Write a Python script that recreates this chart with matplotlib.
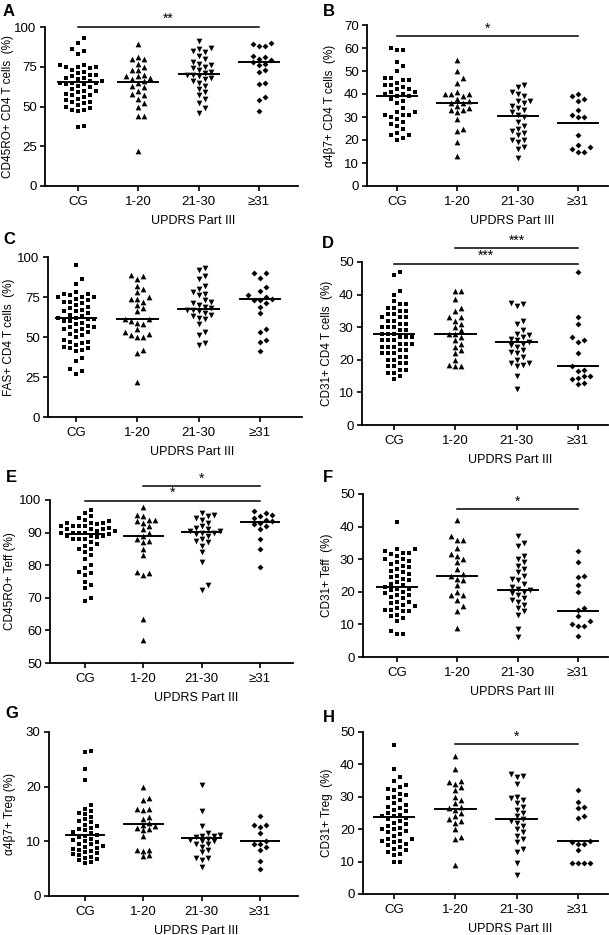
import numpy as np
import matplotlib
matplotlib.use("Agg")
import matplotlib.pyplot as plt

plt.rcParams['font.family'] = ['Liberation Sans', 'DejaVu Sans']

groups = ['CG', '1-20', '21-30', '≥31']
markers = ['s', '^', 'v', 'D']
msizes = [10, 17, 17, 9]

# ---- values (percent) ----
a_cg = [93, 90, 86, 85, 83, 76, 76, 75, 75, 75, 74, 73, 72, 71, 70, 70, 69, 68, 68, 67, 66, 66, 65, 65, 65,
        64, 64, 63, 62, 61, 60, 60, 59, 58, 57, 57, 56, 55, 54, 53, 53, 52, 51, 50, 49, 48, 48, 47, 38, 37]
a_120 = [89, 81, 80, 80, 77, 75, 73, 73, 70, 69, 69, 68, 67, 66, 65, 63, 62, 60, 58, 57, 55, 52, 50, 44, 44, 22]
a_2130 = [91, 87, 86, 85, 84, 82, 80, 78, 77, 76, 75, 74, 73, 72, 71, 70, 70, 69, 68, 67, 66, 65, 63, 61, 59,
          57, 55, 52, 49, 46]
a_31 = [90, 89, 88, 88, 82, 81, 80, 79, 78, 77, 76, 73, 72, 65, 64, 56, 54, 47]

b_cg = [60, 59, 59, 54, 52, 50, 47, 47, 46, 46, 45, 44, 44, 43, 42, 42, 41, 41, 40, 40, 39, 39, 38, 37, 36,
        34, 32, 32, 31, 31, 31, 30, 29, 28, 27, 26, 25, 23, 22, 22, 21, 20]
b_120 = [55, 50, 47, 45, 41, 40, 40, 40, 39, 38, 37, 36, 36, 35, 34, 33, 33, 32, 29, 25, 24, 19, 13]
b_2130 = [44, 43, 41, 40, 39, 37, 37, 36, 35, 34, 33, 32, 31, 30, 28, 26, 25, 24, 23, 22, 20, 20, 19, 17, 16, 12]
b_31 = [40, 39, 38, 37, 33, 31, 30, 30, 22, 18, 17, 16, 15, 15]

c_cg = [95, 86, 83, 78, 77, 77, 76, 75, 75, 75, 74, 73, 72, 72, 71, 70, 69, 68, 67, 66, 66, 65, 64, 63, 62,
        62, 61, 61, 60, 60, 59, 58, 57, 56, 56, 55, 55, 54, 53, 52, 51, 50, 48, 47, 47, 46, 45, 44, 43, 43,
        42, 41, 37, 35, 30, 29, 27]
c_120 = [89, 88, 86, 82, 80, 78, 75, 74, 74, 72, 70, 68, 66, 61, 61, 60, 59, 58, 55, 53, 52, 51, 50, 50, 42, 40, 22]
c_2130 = [93, 92, 88, 86, 82, 80, 78, 77, 76, 73, 72, 71, 70, 69, 68, 67, 67, 66, 65, 64, 63, 62, 61, 58,
          53, 51, 46, 45]
c_31 = [90, 90, 87, 81, 79, 76, 75, 74, 73, 73, 71, 69, 65, 55, 53, 48, 47, 41]

d_cg = [47, 46, 41, 40, 38, 37, 37, 36, 36, 35, 35, 34, 34, 33, 33, 33, 32, 32, 31, 31, 30, 30, 30, 29, 29,
        28, 28, 28, 27, 27, 27, 26, 26, 26, 25, 25, 25, 24, 24, 24, 23, 23, 22, 22, 22, 21, 21, 20, 20, 19,
        19, 18, 18, 17, 17, 16, 16, 15, 14]
d_120 = [41, 41, 38.5, 36, 35, 33, 33, 32, 31, 30, 29, 28, 28, 27, 26, 25, 24, 23, 22, 20, 18.5, 18, 18]
d_2130 = [37.5, 37, 36.5, 32, 31, 29, 28, 27.5, 27, 26.5, 26, 25.5, 25, 24.5, 24, 23, 22.5, 22, 21, 20, 19,
          19, 18.5, 18, 15, 11]
d_31 = [47, 33, 31, 27, 26, 25.5, 22, 18, 17, 16.5, 15, 15, 14.5, 14, 13, 12.5]

e_cg = [97, 96, 95, 94.5, 94, 93.5, 93, 93, 93, 92.5, 92, 92, 92, 92, 91.5, 91, 91, 91, 90.5, 90.5, 90, 90,
        90, 90, 89.5, 89, 89, 89, 88.5, 88, 88, 88, 87, 86.5, 86, 85, 85, 84, 83, 82, 80, 79, 78, 77.5, 77,
        75, 74, 73, 70, 69]
e_120 = [98, 95.5, 95, 94, 94, 93.5, 93, 92, 91, 90, 89, 88, 87.5, 87, 85, 83, 78, 77.5, 77, 63.5, 57]
e_2130 = [96, 95.5, 95, 94.5, 94, 93, 92, 91.5, 91, 90.5, 90.5, 90, 90, 89.5, 89, 88, 87.5, 87, 86, 84, 81,
          74, 72.5]
e_31 = [96.5, 96, 95.5, 95, 94.5, 94, 93.5, 93, 92.5, 92, 91, 88, 85, 79.5]

f_cg = [41.5, 33, 33, 32.5, 32, 32, 31.5, 31, 30, 30, 29.5, 29, 28.5, 28, 27.5, 27, 26.5, 26, 25.5, 25, 24.5,
        24, 23.5, 23, 22.5, 22, 21.5, 21, 21, 20.5, 20, 19.5, 19, 19, 18.5, 18, 17, 17, 16.5, 16, 15.5, 15,
        14.5, 14.5, 14, 14, 13, 12.5, 12, 11, 8, 7, 7]
f_120 = [42, 37, 36, 36, 33.5, 31.5, 31, 30, 29, 27, 25.5, 25, 24, 23.5, 22, 20, 19, 19, 17.5, 15.5, 14, 9]
f_2130 = [37, 35, 34, 31, 30, 29, 28, 27, 26, 25, 24, 23.5, 22.5, 21.5, 21, 20.5, 20, 19.5, 19, 18, 17.5, 17,
          16, 15, 14, 13, 8.5, 6]
f_31 = [32.5, 29, 25, 24.5, 22, 20, 15, 14.5, 12.5, 11, 10, 9.5, 9.5, 6.5]

g_cg = [26.5, 26.3, 23.3, 21.3, 16.7, 16, 15.5, 15.2, 15, 14.5, 14, 13.8, 13.5, 13, 12.8, 12.5, 12.2, 12,
        11.7, 11.5, 11.2, 11, 10.8, 10.5, 10.2, 10, 9.8, 9.6, 9.5, 9.2, 9, 8.8, 8.6, 8.5, 8.3, 8, 7.8, 7.6,
        7.5, 7.2, 7, 6.8, 6.5, 6.2, 6]
g_120 = [20, 18, 17.5, 16, 16, 15.8, 14.5, 14, 13.3, 13, 12.8, 12.5, 12.2, 12, 11, 8.5, 8.5, 8.3, 7.5, 7.3]
g_2130 = [20.3, 15.5, 12.8, 11.5, 11.2, 11, 11, 10.8, 10.5, 10.3, 10, 10, 9.5, 9.5, 9, 8.5, 8, 7, 7, 6.5, 5.3]
g_31 = [14.7, 13, 13, 12.7, 11.5, 10, 9.6, 9.5, 9, 8.5, 6.4, 5]

h_cg = [46, 38.5, 36, 35, 33.5, 33, 32.5, 32, 31, 30.5, 30, 29.5, 29, 28, 27.5, 27, 26.5, 26, 25.5, 25, 24.5,
        24, 24, 23.5, 23, 22.5, 22, 21.5, 21, 20.5, 20, 20, 19.5, 19, 18.5, 18, 17, 17, 16.5, 16.5, 16, 15.5,
        15, 14.5, 14, 13.5, 13, 12.5, 12, 10, 10]
h_120 = [42.5, 38.5, 35, 34.5, 34, 33, 32, 30, 29, 28, 27, 26.5, 26, 25, 24, 23, 22.5, 22, 20, 17.5, 17, 9]
h_2130 = [37, 36.5, 36, 34, 30, 29.5, 29, 28, 27, 26, 25, 24, 23, 22.5, 22, 21, 20, 19, 18, 17, 16, 14, 13,
          9.5, 6]
h_31 = [32, 28.5, 27, 26.5, 24, 23.5, 16.5, 16, 15.5, 15.5, 13.5, 9.5, 9.5, 9.5, 9.5]

# median lines as drawn
medians = {
    'A': [65.3, 65.7, 70.7, 78.2], 'B': [39.0, 36.3, 30.5, 27.6],
    'C': [61.6, 61.0, 67.8, 74.0], 'D': [28.0, 28.0, 25.6, 18.1],
    'E': [89.6, 89.0, 90.3, 93.2], 'F': [21.5, 24.9, 20.7, 14.0],
    'G': [11.1, 13.2, 10.65, 10.1], 'H': [23.8, 26.2, 23.0, 16.5],
}

ylabels = {
    'A': 'CD45RO+ CD4 T cells  (%)', 'B': 'α4β7+ CD4 T cells  (%)',
    'C': 'FAS+ CD4 T cells  (%)', 'D': 'CD31+ CD4 T cells  (%)',
    'E': 'CD45RO+ Teff (%)', 'F': 'CD31+ Teff  (%)',
    'G': 'α4β7+ Treg (%)', 'H': 'CD31+ Treg  (%)',
}

yaxes = {
    'A': (0, 100, 25), 'B': (0, 70, 10), 'C': (0, 100, 25), 'D': (0, 50, 10),
    'E': (50, 100, 10), 'F': (0, 50, 10), 'G': (0, 30, 10), 'H': (0, 50, 10),
}

# significance: (from group, to group, height, label)
sig = {
    'A': [(0, 3, 100.3, '**')],
    'B': [(0, 3, 65.2, '*')],
    'D': [(1, 3, 54.3, '***'), (0, 3, 49.5, '***')],
    'E': [(1, 3, 104.3, '*'), (0, 3, 99.8, '*')],
    'F': [(1, 3, 45.4, '*')],
    'H': [(1, 3, 46.3, '*')],
}

data = {
    'A': [a_cg, a_120, a_2130, a_31], 'B': [b_cg, b_120, b_2130, b_31],
    'C': [c_cg, c_120, c_2130, c_31], 'D': [d_cg, d_120, d_2130, d_31],
    'E': [e_cg, e_120, e_2130, e_31], 'F': [f_cg, f_120, f_2130, f_31],
    'G': [g_cg, g_120, g_2130, g_31], 'H': [h_cg, h_120, h_2130, h_31],
}

# ---- layout in pixels: left, top, right, bottom and category centres ----
W, H = 609, 935
boxes = {
    'A': (45, 27, 298, 186), 'B': (367, 25, 608, 186),
    'C': (48, 257, 302, 417), 'D': (362, 262, 608, 425),
    'E': (50, 500, 293, 663), 'F': (363, 494, 608, 657),
    'G': (49, 732, 298, 896), 'H': (363, 732, 608, 894),
}
centres = {
    'A': (78, 259), 'B': (397, 578), 'C': (76, 260), 'D': (394, 578),
    'E': (85, 260), 'F': (397, 578), 'G': (85, 260), 'H': (394, 578),
}
letter_pos = {'A': (3, 12), 'B': (323, 11), 'C': (3, 240), 'D': (322, 244),
              'E': (6, 478), 'F': (323, 478), 'G': (5, 714), 'H': (323, 717)}
ylab_x = {'A': 8, 'B': 330, 'C': 9, 'D': 327, 'E': 10, 'F': 327, 'G': 10, 'H': 327}


def swarm(vals, ppu, d):
    # greedy beeswarm in pixel space, returns x offsets in px
    y = np.asarray(vals, float) * ppu
    xs = np.zeros(len(y))
    placed = []
    for i in np.argsort(y):
        off = 0.0
        for k in range(40):
            cands = [0.0] if k == 0 else [k * d, -k * d]
            hit = None
            for c in cands:
                if all((c - px) ** 2 + (y[i] - py) ** 2 >= (0.9 * d) ** 2 for px, py in placed):
                    hit = c
                    break
            if hit is not None:
                off = hit
                break
        xs[i] = off
        placed.append((off, y[i]))
    return xs


fig = plt.figure(figsize=(W / 100, H / 100), dpi=100)

for key in 'ABCDEFGH':
    l, t, r, b = boxes[key]
    ax = fig.add_axes([l / W, 1 - b / H, (r - l) / W, (b - t) / H])
    c0, c3 = centres[key]
    sp = (c3 - c0) / 3
    x0, x1 = (l - c0) / sp, (r - c0) / sp
    ymin, ymax, step = yaxes[key]
    ax.set_xlim(x0, x1)
    ax.set_ylim(ymin, ymax)
    ppu = (b - t) / (ymax - ymin)
    dpx = (x1 - x0) / (r - l)

    for gi, vals in enumerate(data[key]):
        offs = swarm(vals, ppu, 6.0) * dpx
        ax.scatter(gi + offs, vals, marker=markers[gi], s=msizes[gi], c='black',
                   linewidths=0, clip_on=False, zorder=3)
        ax.plot([gi - 0.33, gi + 0.33], [medians[key][gi]] * 2, color='black', lw=1.4, zorder=4)

    for g1, g2, hgt, lab in sig.get(key, []):
        ax.plot([g1, g2], [hgt, hgt], color='black', lw=1.1, clip_on=False)
        ax.annotate(lab, xy=((g1 + g2) / 2, hgt), xytext=(0, 0.5), textcoords='offset points',
                    ha='center', va='bottom', fontsize=10, annotation_clip=False)

    ax.set_yticks(np.arange(ymin, ymax + 0.1, step))
    ax.set_xticks(range(4))
    ax.set_xticklabels(groups)
    for s in ['top', 'right']:
        ax.spines[s].set_visible(False)
    for s in ['left', 'bottom']:
        ax.spines[s].set_linewidth(1.3)
    ax.tick_params(length=3.5, width=1.2, labelsize=9.5, pad=2.5)
    ax.tick_params(axis='x', pad=4)

    ax.annotate('UPDRS Part III', xy=(1.9, 0), xycoords=('data', 'axes fraction'),
                xytext=(0, -25), textcoords='offset points', ha='center', va='center', fontsize=9)

    fig.text(ylab_x[key] / W, 1 - (t + b) / 2 / H, ylabels[key], rotation=90,
             ha='center', va='center', fontsize=8.5)
    lx, ly = letter_pos[key]
    fig.text(lx / W, 1 - ly / H, key, fontsize=12, fontweight='bold', ha='left', va='center')

fig.savefig('out.png', dpi=100)
